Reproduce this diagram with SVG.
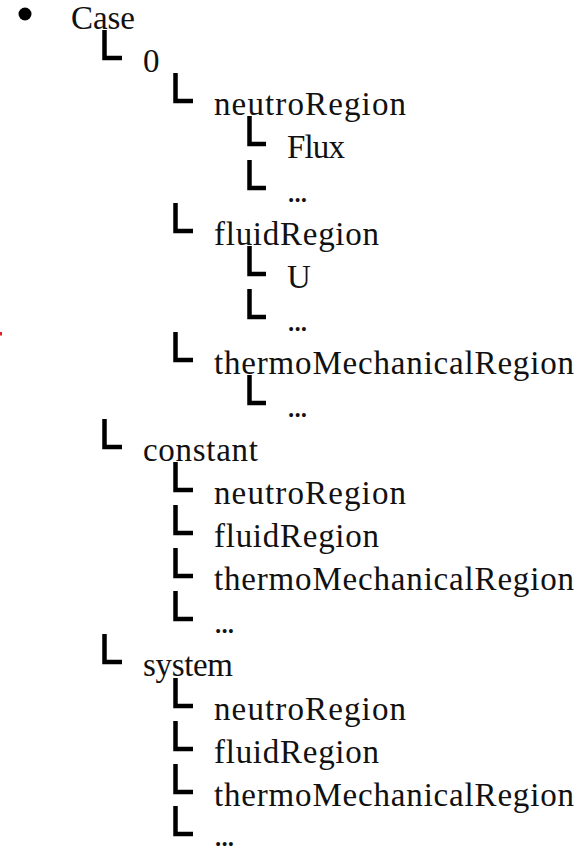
<svg xmlns="http://www.w3.org/2000/svg" width="581" height="854" viewBox="0 0 581 854">
  <style>
    .lbl { font-family: "Liberation Serif", "DejaVu Serif", serif; font-size: 33px; fill: #111; }
    .elbow { fill: none; stroke: #000; stroke-width: 4.5; stroke-linejoin: miter; }
  </style>
  <defs>
    <!-- tree elbows: vertical stroke down, then short stroke right -->
    <path id="elbow1" class="elbow" d="M104.5,0 V28 H122"/>
    <path id="elbow2" class="elbow" d="M175.5,0 V28 H193"/>
    <path id="elbow3" class="elbow" d="M249.5,0 V28 H266"/>
  </defs>
  <rect width="581" height="854" fill="#fff"/>

  <!-- stray red mark on the left margin -->
  <rect x="0" y="332" width="2" height="3.5" fill="#e02020"/>

  <g id="connectors">
    <use href="#elbow1" y="30"/>
    <use href="#elbow2" y="73"/>
    <use href="#elbow3" y="116"/>
    <use href="#elbow3" y="160"/>
    <use href="#elbow2" y="203"/>
    <use href="#elbow3" y="246"/>
    <use href="#elbow3" y="289"/>
    <use href="#elbow2" y="332"/>
    <use href="#elbow3" y="375"/>
    <use href="#elbow1" y="419"/>
    <use href="#elbow2" y="462"/>
    <use href="#elbow2" y="505"/>
    <use href="#elbow2" y="548"/>
    <use href="#elbow2" y="591"/>
    <use href="#elbow1" y="634"/>
    <use href="#elbow2" y="678"/>
    <use href="#elbow2" y="721"/>
    <use href="#elbow2" y="764"/>
    <use href="#elbow2" y="806"/>
  </g>

  <g id="case">
    <circle cx="25" cy="14" r="6.5" fill="#000"/>
    <text class="lbl" x="71" y="29" textLength="64">Case</text>
  </g>

  <g id="dir-0">
    <text class="lbl" x="143" y="72">0</text>
  </g>
  <g id="dir-0-neutroRegion">
    <text class="lbl" x="214" y="115" textLength="192">neutroRegion</text>
  </g>
  <g id="dir-0-neutroRegion-Flux">
    <text class="lbl" x="287" y="158" textLength="58">Flux</text>
  </g>
  <g id="dir-0-neutroRegion-more">
    <text class="lbl" x="287" y="202" textLength="21">...</text>
  </g>
  <g id="dir-0-fluidRegion">
    <text class="lbl" x="214" y="245" textLength="165">fluidRegion</text>
  </g>
  <g id="dir-0-fluidRegion-U">
    <text class="lbl" x="287" y="288">U</text>
  </g>
  <g id="dir-0-fluidRegion-more">
    <text class="lbl" x="287" y="331" textLength="21">...</text>
  </g>
  <g id="dir-0-thermoMechanicalRegion">
    <text class="lbl" x="214" y="374" textLength="360">thermoMechanicalRegion</text>
  </g>
  <g id="dir-0-thermoMechanicalRegion-more">
    <text class="lbl" x="287" y="417" textLength="21">...</text>
  </g>

  <g id="dir-constant">
    <text class="lbl" x="143" y="461" textLength="115">constant</text>
  </g>
  <g id="dir-constant-neutroRegion">
    <text class="lbl" x="214" y="504" textLength="192">neutroRegion</text>
  </g>
  <g id="dir-constant-fluidRegion">
    <text class="lbl" x="214" y="547" textLength="165">fluidRegion</text>
  </g>
  <g id="dir-constant-thermoMechanicalRegion">
    <text class="lbl" x="214" y="590" textLength="360">thermoMechanicalRegion</text>
  </g>
  <g id="dir-constant-more">
    <text class="lbl" x="214" y="633" textLength="21">...</text>
  </g>

  <g id="dir-system">
    <text class="lbl" x="143" y="676" textLength="90">system</text>
  </g>
  <g id="dir-system-neutroRegion">
    <text class="lbl" x="214" y="720" textLength="192">neutroRegion</text>
  </g>
  <g id="dir-system-fluidRegion">
    <text class="lbl" x="214" y="763" textLength="165">fluidRegion</text>
  </g>
  <g id="dir-system-thermoMechanicalRegion">
    <text class="lbl" x="214" y="806" textLength="360">thermoMechanicalRegion</text>
  </g>
  <g id="dir-system-more">
    <text class="lbl" x="214" y="846" textLength="21">...</text>
  </g>
</svg>
